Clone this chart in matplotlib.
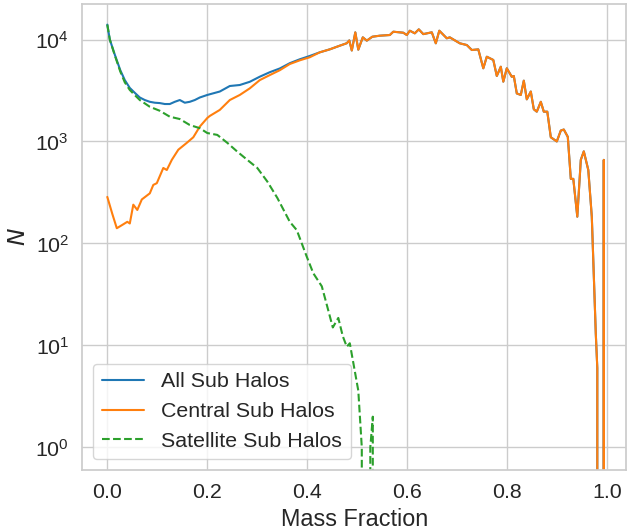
import numpy as np
import matplotlib
matplotlib.use("Agg")
import matplotlib.pyplot as plt
import seaborn as sns

# values (x = mass fraction, y = counts)
x_central = [0.0, 0.01, 0.019, 0.03, 0.04, 0.045, 0.052, 0.06, 0.069, 0.085,
             0.092, 0.099, 0.112, 0.119, 0.129, 0.142, 0.159, 0.172, 0.185, 0.2,
             0.205, 0.225, 0.245, 0.265, 0.285, 0.305, 0.325, 0.345, 0.365, 0.385,
             0.405, 0.425, 0.445, 0.465, 0.479, 0.484, 0.489, 0.496, 0.502, 0.511,
             0.519, 0.53, 0.545, 0.565, 0.572, 0.592, 0.599, 0.605, 0.615, 0.623,
             0.632, 0.649, 0.657, 0.664, 0.679, 0.685, 0.705, 0.719, 0.729, 0.742,
             0.752, 0.759, 0.772, 0.779, 0.787, 0.792, 0.799, 0.809, 0.813, 0.819,
             0.827, 0.833, 0.839, 0.847, 0.853, 0.859, 0.867, 0.873, 0.88, 0.887,
             0.899, 0.907, 0.913, 0.921, 0.927, 0.932, 0.94, 0.947, 0.953, 0.962,
             0.969, 0.977, 0.98, 0.985, 0.99, 0.993, 0.996]
n_central = [286, 195, 141, 152, 163, 157, 240, 213, 270, 310,
             375, 390, 550, 525, 660, 830, 970, 1100, 1400, 1700,
             1780, 2040, 2550, 2860, 3320, 4000, 4480, 5000, 5750, 6250,
             6700, 7490, 8010, 8700, 9200, 9800, 7800, 11760, 7950, 10500,
             9750, 10650, 10900, 11070, 11930, 11660, 11070, 12200, 11500, 12580,
             11300, 11760, 9180, 12200, 10280, 10500, 9180, 8830, 7890, 8000,
             5220, 6780, 6300, 4390, 5410, 3860, 5220, 4310, 4390, 2960,
             2860, 3950, 2590, 3090, 2070, 1960, 2450, 1960, 1960, 1100,
             1000, 1280, 1310, 1110, 430, 430, 183, 660, 800, 525,
             183, 13, 6, 0, 0, 660, 0]

x_all_low = [0.0, 0.005, 0.015, 0.026, 0.035, 0.045, 0.055, 0.065, 0.075, 0.085,
             0.095, 0.105, 0.115, 0.125, 0.135, 0.145, 0.155, 0.165, 0.175, 0.185,
             0.2, 0.225, 0.245, 0.265, 0.285, 0.305, 0.325, 0.345, 0.365, 0.385,
             0.405]
n_all_low = [14000, 10000, 7100, 5000, 4000, 3350, 3000, 2700, 2550, 2450,
             2400, 2380, 2330, 2330, 2450, 2550, 2400, 2450, 2550, 2700,
             2860, 3090, 3500, 3580, 3850, 4320, 4780, 5200, 5860, 6400,
             6900]

x_sat = [0.0, 0.005, 0.015, 0.026, 0.035, 0.045, 0.055, 0.065, 0.085, 0.105,
         0.125, 0.145, 0.165, 0.185, 0.2, 0.22, 0.24, 0.26, 0.28, 0.3,
         0.32, 0.34, 0.365, 0.379, 0.399, 0.412, 0.429, 0.439, 0.451, 0.462,
         0.471, 0.479, 0.485, 0.502, 0.509, 0.515, 0.522, 0.526, 0.531, 0.535]
n_sat = [14000, 10000, 7000, 4850, 3800, 3200, 2850, 2550, 2190, 2000,
         1750, 1660, 1450, 1350, 1210, 1160, 970, 795, 660, 550,
         405, 280, 163, 135, 74, 51, 38, 25, 15, 18.6,
         12.3, 9.7, 10.5, 3.6, 1, 0, 0, 1, 2, 0]

# above ~0.42 all halos are the central ones
x_all = x_all_low + [v for v in x_central if v > 0.41]
n_all = n_all_low + [n for v, n in zip(x_central, n_central) if v > 0.41]

sns.set_theme(style="whitegrid", font_scale=1.4)
plt.rcParams['font.family'] = ['Liberation Sans', 'DejaVu Sans']

fig = plt.figure(figsize=(6.27, 5.29), dpi=100)
ax = fig.add_axes([82.3 / 627, 1 - 470 / 529, 544 / 627, 466 / 529])

ax.plot(x_all, n_all, color='#1f77b4', lw=1.5, label='All Sub Halos')
ax.plot(x_central, n_central, color='#ff7f0e', lw=1.5, label='Central Sub Halos')
ax.plot(x_sat, n_sat, color='#2ca02c', lw=1.5, ls='--', label='Satellite Sub Halos')

ax.set_yscale('log', nonpositive='clip')
ax.set_xlim(-0.05, 1.038)
ax.set_ylim(0.6, 22300)
ax.set_xticks([0.0, 0.2, 0.4, 0.6, 0.8, 1.0])
ax.set_xlabel('Mass Fraction')
ax.set_ylabel('$N$')
ax.legend(loc='lower left')

fig.savefig('out.png', dpi=100)
